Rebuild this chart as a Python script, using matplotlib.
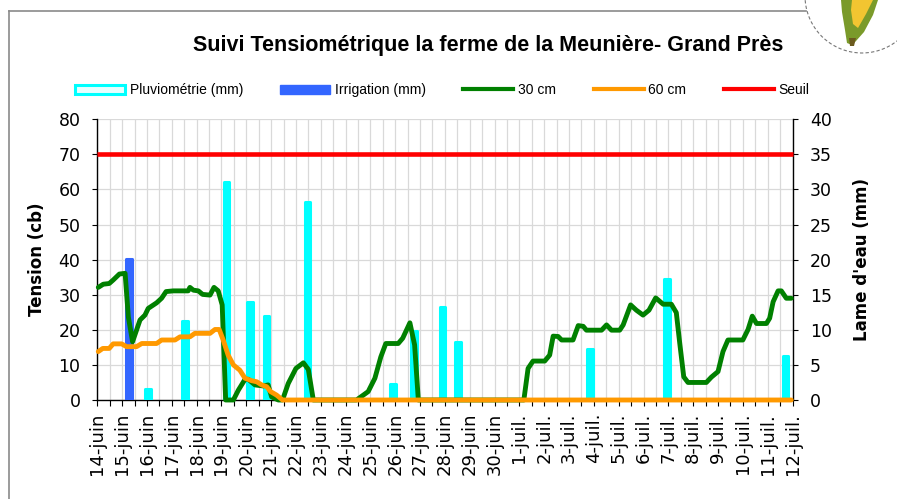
import matplotlib
matplotlib.use('Agg')
import matplotlib.pyplot as plt
from matplotlib.lines import Line2D
from matplotlib.patches import Patch, Circle, Polygon

# ---------------- data ----------------
day_labels = ['14-juin', '15-juin', '16-juin', '17-juin', '18-juin', '19-juin', '20-juin',
              '21-juin', '22-juin', '23-juin', '24-juin', '25-juin', '26-juin', '27-juin',
              '28-juin', '29-juin', '30-juin', '1-juil.', '2-juil.', '3-juil.', '4-juil.',
              '5-juil.', '6-juil.', '7-juil.', '8-juil.', '9-juil.', '10-juil.', '11-juil.',
              '12-juil.']

# days since 14-juin 00h
t30 = [0.04, 0.24, 0.48, 0.64, 0.89, 1.12, 1.25, 1.42, 1.58, 1.72, 1.92, 2.05, 2.39, 2.59,
       2.77, 3.06, 3.66, 3.73, 3.87, 4.07, 4.24, 4.54, 4.70, 4.87, 5.03, 5.17, 5.48, 5.68,
       5.95, 6.08, 6.35, 6.68, 6.88, 7.02, 7.29, 7.46, 7.69, 8.00, 8.30, 8.50, 8.70, 10.44,
       10.91, 11.18, 11.42, 11.62, 12.12, 12.30, 12.59, 12.78, 12.93, 17.18, 17.35, 17.55,
       18.02, 18.22, 18.36, 18.56, 18.70, 19.16, 19.37, 19.57, 19.70, 20.31, 20.51, 20.71,
       21.04, 21.18, 21.48, 21.71, 21.98, 22.22, 22.49, 22.79, 23.12, 23.32, 23.46, 23.62,
       23.79, 24.53, 24.73, 25.00, 25.20, 25.40, 26.00, 26.21, 26.38, 26.55, 26.95, 27.08,
       27.22, 27.42, 27.55, 27.75, 27.95]
v30 = [32.1, 33.0, 33.2, 34.2, 35.9, 36.1, 23.7, 16.6, 19.9, 22.8, 24.2, 26.1, 27.7, 29.0,
       30.9, 31.1, 31.1, 32.1, 31.3, 31.1, 30.1, 29.9, 32.1, 31.1, 27.1, 0.0, 0.0, 2.8,
       5.9, 5.9, 4.3, 4.0, 4.3, 0.9, 0.0, 0.0, 4.7, 9.0, 10.6, 8.7, 0.0, 0.0,
       2.4, 6.2, 12.3, 16.1, 16.1, 17.6, 22.0, 15.7, 0.0, 0.0, 9.0, 11.1,
       11.1, 12.8, 18.2, 18.1, 17.1, 17.1, 21.2, 21.0, 19.9, 19.9, 21.4, 19.9,
       19.9, 21.4, 27.1, 25.6, 24.2, 25.6, 29.1, 27.3, 27.3, 24.9, 16.1, 6.6,
       5.0, 5.0, 6.5, 8.1, 13.8, 17.1, 17.1, 20.1, 23.9, 21.8, 21.8, 23.3,
       28.0, 31.1, 31.1, 29.0, 29.0]

t60 = [0.04, 0.22, 0.48, 0.64, 0.98, 1.18, 1.58, 1.79, 2.39, 2.59, 3.13, 3.33, 3.73, 3.93,
       4.54, 4.74, 4.91, 5.07, 5.27, 5.48, 5.74, 5.95, 6.22, 6.42, 6.62, 6.82, 6.98, 7.22,
       7.46, 27.95]
v60 = [13.8, 14.7, 14.7, 16.0, 16.0, 15.2, 15.2, 16.1, 16.1, 17.1, 17.1, 18.0, 18.0, 19.0,
       19.0, 20.1, 20.1, 17.1, 12.8, 10.0, 8.5, 6.2, 5.5, 5.2, 4.3, 3.8, 2.4, 1.4,
       0.0, 0.0]

seuil_t = [0, 28]
seuil_v = [70, 70]

rain_t = [2.04, 3.54, 5.20, 6.15, 6.82, 8.47, 11.92, 12.76, 13.90, 14.54, 19.83, 22.94, 27.72]
rain_mm = [1.5, 11.2, 31.1, 13.9, 11.9, 28.2, 2.3, 9.8, 13.2, 8.2, 7.25, 17.2, 6.3]

irr_t = [1.28]
irr_mm = [20.1]

title = 'Suivi Tensiométrique la ferme de la Meunière- Grand Près'

# ---------------- figure ----------------
plt.rcParams['font.family'] = ['DejaVu Sans']
W, H = 897, 499
fig = plt.figure(figsize=(W / 100, H / 100), dpi=100)
fig.patch.set_facecolor('white')

# overlay for frame / logo (pixel coordinates)
ov = fig.add_axes([0, 0, 1, 1], zorder=-5)
ov.set_xlim(0, W)
ov.set_ylim(H, 0)
ov.axis('off')
ov.plot([9, 9], [10.5, H], color='#8a8a8a', lw=1.2)
ov.plot([9, 806], [10.5, 10.5], color='#8a8a8a', lw=1.2)
ov.add_patch(Circle((862, -4), 57, facecolor='white', edgecolor='#777777', lw=0.8,
                    linestyle=(0, (3, 2))))
ov.add_patch(Polygon([(841, 0), (878, 0), (873, 15), (864, 32), (856, 41), (852, 45),
                      (847, 43), (845, 30), (842, 12)], closed=True,
                     facecolor='#7a9a2a', edgecolor='none'))
ov.add_patch(Polygon([(852, 0), (873, 0), (866, 14), (858, 28), (853, 24), (851, 10)],
                     closed=True, facecolor='#f2c531', edgecolor='none'))
ov.add_patch(Polygon([(849, 38), (856, 38), (854, 46), (850, 46)], closed=True,
                     facecolor='#6b5a1e', edgecolor='none'))

# axes geometry
x0, x1 = 97.3, 792.5
y0, y1 = 400.0, 119.3
rect = [x0 / W, (H - y0) / H, (x1 - x0) / W, (y0 - y1) / H]

ax_b = fig.add_axes(rect)          # bars, grid, x axis, right y axis
ax_t = ax_b.twinx()                # lines, left y axis
ax_t.set_zorder(ax_b.get_zorder() + 1)
ax_t.patch.set_visible(False)

ax_b.bar(rain_t, rain_mm, width=0.23, color='#00ffff', edgecolor='#00ffff', lw=2.2,
         joinstyle='round', zorder=3)
ax_b.bar(irr_t, irr_mm, width=0.23, color='#3366ff', edgecolor='#3366ff', lw=2.2,
         joinstyle='round', zorder=3)

ax_t.plot(seuil_t, seuil_v, color='#ff0000', lw=3.3, solid_capstyle='butt', clip_on=False)
ax_t.plot(t30, v30, color='#008000', lw=3.5, solid_joinstyle='round', solid_capstyle='round',
          clip_on=False)
ax_t.plot(t60, v60, color='#ff9900', lw=3.5, solid_joinstyle='round', solid_capstyle='round',
          clip_on=False)

# limits
ax_b.set_xlim(0, 28)
ax_b.set_ylim(0, 40)
ax_t.set_ylim(0, 80)

# x ticks every half day, labels on full days
xt = [i * 0.5 for i in range(57)]
xl = []
for i in range(57):
    xl.append(day_labels[i // 2] if i % 2 == 0 else '')
ax_b.set_xticks(xt)
ax_b.set_xticklabels(xl, rotation=90, fontsize=13)
ax_b.tick_params(axis='x', direction='out', length=4.2, width=0.8, pad=5)

# y axes
ax_b.yaxis.tick_right()
ax_b.yaxis.set_label_position('right')
ax_b.set_yticks(range(0, 41, 5))
ax_b.tick_params(axis='y', direction='out', length=3.6, width=0.8, pad=9, labelsize=12.5,
                 right=True, left=False, labelright=True, labelleft=False)
ax_t.yaxis.tick_left()
ax_t.yaxis.set_label_position('left')
ax_t.set_yticks(range(0, 81, 10))
ax_t.tick_params(axis='y', direction='out', length=3.6, width=0.8, pad=8.5, labelsize=12.5,
                 left=True, right=False, labelleft=True, labelright=False)

ax_t.set_ylabel('Tension (cb)', fontsize=12, fontweight='bold', labelpad=9)
ax_b.set_ylabel("Lame d'eau (mm)", fontsize=12, fontweight='bold', labelpad=15)

# grid
ax_b.grid(True, axis='both', color='#d9d9d9', lw=0.9, zorder=0)
ax_b.set_axisbelow(True)

ax_b.spines['top'].set_visible(False)
for sp in ax_t.spines.values():
    sp.set_visible(False)
for sp in ['left', 'right', 'bottom']:
    ax_b.spines[sp].set_color('black')
    ax_b.spines[sp].set_linewidth(1.0)

# title
fig.text(488 / W, 1 - 46 / H, title, ha='center', va='center', fontsize=15.5,
         fontweight='bold', family='Liberation Sans')

# legend
handles = [Patch(facecolor='#e8ffff', edgecolor='#00ffff', lw=2.2),
           Patch(facecolor='#3366ff', edgecolor='#3366ff'),
           Line2D([], [], color='#008000', lw=3),
           Line2D([], [], color='#ff9900', lw=3),
           Line2D([], [], color='#ff0000', lw=3)]
labels = ['Pluviométrie (mm)', 'Irrigation (mm)', '30 cm', '60 cm', 'Seuil']
fig.legend(handles, labels, loc='center left', bbox_to_anchor=(68 / W, 1 - 90 / H),
           ncol=5, frameon=False, borderpad=0, handlelength=3.6, handleheight=0.6,
           handletextpad=0.35, columnspacing=2.68,
           prop={'family': 'Liberation Sans', 'size': 10})

fig.savefig('out.png', dpi=100, facecolor='white')
